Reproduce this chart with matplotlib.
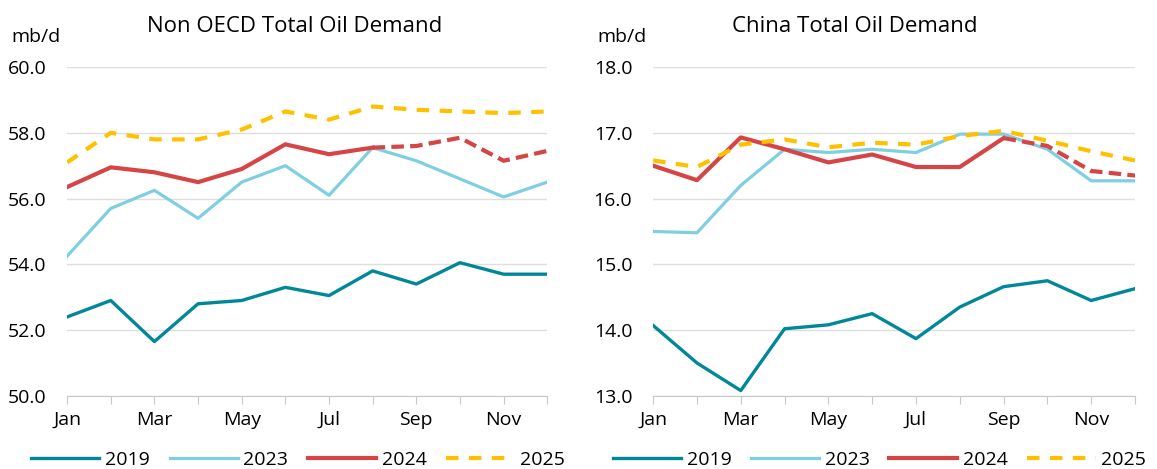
import matplotlib.pyplot as plt

plt.rcParams['font.family'] = ['Open Sans', 'DejaVu Sans']

months = ['Jan', 'Feb', 'Mar', 'Apr', 'May', 'Jun', 'Jul', 'Aug', 'Sep', 'Oct', 'Nov', 'Dec']

# Non OECD total oil demand, mb/d
non_oecd_2019 = [52.4, 52.9, 51.65, 52.8, 52.9, 53.3, 53.05, 53.8, 53.4, 54.05, 53.7, 53.7]
non_oecd_2023 = [54.25, 55.7, 56.25, 55.4, 56.5, 57.0, 56.1, 57.55, 57.15, 56.6, 56.05, 56.5]
non_oecd_2024 = [56.35, 56.95, 56.8, 56.5, 56.9, 57.65, 57.35, 57.55, 57.6, 57.85, 57.15, 57.45]
non_oecd_2025 = [57.1, 58.0, 57.8, 57.8, 58.1, 58.65, 58.4, 58.8, 58.7, 58.65, 58.6, 58.65]
non_oecd_actual = 8  # months of 2024 data that are actual (rest forecast)

# China total oil demand, mb/d
china_2019 = [14.07, 13.5, 13.08, 14.02, 14.08, 14.25, 13.87, 14.35, 14.66, 14.75, 14.45, 14.63]
china_2023 = [15.5, 15.48, 16.2, 16.75, 16.7, 16.75, 16.7, 16.98, 16.98, 16.75, 16.27, 16.27]
china_2024 = [16.5, 16.28, 16.93, 16.75, 16.55, 16.67, 16.48, 16.48, 16.92, 16.8, 16.42, 16.35]
china_2025 = [16.58, 16.48, 16.82, 16.9, 16.78, 16.85, 16.82, 16.95, 17.03, 16.88, 16.72, 16.58]
china_actual = 9

C19 = '#00889a'
C23 = '#7fcfe2'
C24 = '#d64545'
C25 = '#ffc000'


def draw_panel(ax, s19, s23, s24, s25, n_actual, ylim, step, leg_x):
    x = list(range(12))
    ax.plot(x, s19, color=C19, lw=2.4, label='2019', zorder=3)
    ax.plot(x, s23, color=C23, lw=2.3, label='2023', zorder=3)
    ax.plot(x[:n_actual], s24[:n_actual], color=C24, lw=3.0, label='2024', zorder=4)
    ax.plot(x[n_actual - 1:], s24[n_actual - 1:], color=C24, lw=3.0, ls=(0, (3, 1.5)), zorder=4)
    ax.plot(x, s25, color=C25, lw=3.0, ls=(0, (3, 2.5)), label='2025', zorder=5)

    ax.set_xlim(0, 11)
    ax.set_ylim(*ylim)
    yt = [ylim[0] + i * step for i in range(int(round((ylim[1] - ylim[0]) / step)) + 1)]
    ax.set_yticks(yt)
    ax.set_yticklabels([f'{v:.1f}' for v in yt], fontsize=14)
    ax.set_xticks(x)
    ax.set_xticklabels([m if i % 2 == 0 else '' for i, m in enumerate(months)], fontsize=14)
    ax.tick_params(axis='y', length=0, pad=15)
    ax.tick_params(axis='x', length=6, color='#c8c8c8', pad=5)
    ax.grid(axis='y', color='#dedede', lw=1)
    ax.set_axisbelow(True)
    for s in ['top', 'right', 'left']:
        ax.spines[s].set_visible(False)
    ax.spines['bottom'].set_color('#c8c8c8')
    ax.legend(loc='center', bbox_to_anchor=(leg_x, -0.195), ncol=4, frameon=False,
              fontsize=14, handlelength=3.5, columnspacing=1.0, handletextpad=0.3)


fig = plt.figure(figsize=(11.57, 4.69), dpi=100)
ax1 = fig.add_axes([0.058, 0.156, 0.415, 0.701])
ax2 = fig.add_axes([0.5645, 0.156, 0.4165, 0.701])

draw_panel(ax1, non_oecd_2019, non_oecd_2023, non_oecd_2024,
           non_oecd_2025, non_oecd_actual, (50, 60), 2, 0.481)
draw_panel(ax2, china_2019, china_2023, china_2024,
           china_2025, china_actual, (13, 18), 1, 0.47)

# titles and unit labels
fig.text(295 / 1157, 1 - 27 / 469, 'Non OECD Total Oil Demand', fontsize=16, ha='center', va='center')
fig.text(855 / 1157, 1 - 27 / 469, 'China Total Oil Demand', fontsize=16, ha='center', va='center')
fig.text(11 / 1157, 1 - 37 / 469, 'mb/d', fontsize=14, ha='left', va='center')
fig.text(597 / 1157, 1 - 37 / 469, 'mb/d', fontsize=14, ha='left', va='center')

fig.savefig('out.png', dpi=100)
